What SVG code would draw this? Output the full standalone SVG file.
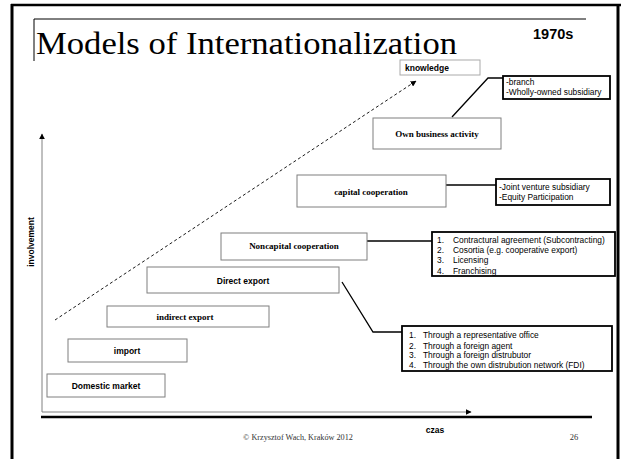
<svg xmlns="http://www.w3.org/2000/svg" width="621" height="459" viewBox="0 0 621 459">
<style>
.node{fill:#fff;stroke:#7f7f7f;stroke-width:1}
.note{fill:#fff;stroke:#000;stroke-width:1.8}
.ser{font-family:"Liberation Serif",serif;font-weight:bold;font-size:9px;text-anchor:middle;fill:#000}
.san{font-family:"Liberation Sans",Arial,sans-serif;font-weight:bold;font-size:8.5px;text-anchor:middle;fill:#000}
.txt{font-family:"Liberation Sans",Arial,sans-serif;font-size:8.4px;fill:#000}
.con{stroke:#000;stroke-width:1.3;fill:none}
.axis{stroke:#808080;stroke-width:1;fill:none}
</style>
<defs>
<marker id="ah" viewBox="0 0 10 10" refX="9" refY="5" markerWidth="6" markerHeight="6" orient="auto" markerUnits="userSpaceOnUse">
<path d="M0,0 L10,5 L0,10 z" fill="#000"/>
</marker>
</defs>
<rect width="621" height="459" fill="#fff"/>
<g id="frame">
<line x1="12" y1="4" x2="12" y2="459" stroke="#000" stroke-width="3"/>
<line x1="11" y1="5" x2="621" y2="5" stroke="#000" stroke-width="2.5"/>
<line x1="618" y1="4" x2="618" y2="459" stroke="#000" stroke-width="3"/>
<line x1="34" y1="19" x2="586" y2="19" stroke="#000" stroke-width="1"/>
<line x1="34" y1="19" x2="34" y2="61" stroke="#000" stroke-width="1"/>
<line x1="41" y1="417" x2="592" y2="417" stroke="#000" stroke-width="2.5"/>
</g>
<text x="36" y="54" font-family="Liberation Serif,serif" font-size="32" textLength="421" lengthAdjust="spacingAndGlyphs">Models of Internationalization</text>
<text x="533" y="39" font-family="Liberation Sans,Arial,sans-serif" font-weight="bold" font-size="14.5">1970s</text>
<g id="axes">
<line class="axis" x1="42" y1="412" x2="42" y2="134" marker-end="url(#ah)"/>
<line class="axis" x1="42" y1="412" x2="471" y2="412" marker-end="url(#ah)"/>
</g>
<text class="san" transform="translate(34,242) rotate(-90)">involvement</text>
<text class="san" x="435" y="433" font-size="9.5">czas</text>
<text x="298" y="440" font-family="Liberation Serif,serif" font-size="8.2" text-anchor="middle" fill="#333">© Krzysztof Wach, Kraków 2012</text>
<text x="574" y="440" font-family="Liberation Serif,serif" font-size="8.5" text-anchor="middle" fill="#333">26</text>
<g id="connectors">
<line x1="55" y1="320" x2="416" y2="81" stroke="#000" stroke-width="0.9" stroke-dasharray="3,2.5" marker-end="url(#ah)"/>
<polyline class="con" points="452,117 488,78 503,78"/>
<line class="con" x1="446" y1="185" x2="496" y2="185"/>
<line class="con" x1="367" y1="241" x2="432" y2="241"/>
<polyline class="con" points="342,282 373,332 402,332"/>
</g>
<g id="knowledge">
<rect x="400" y="60" width="80" height="15" fill="#fff" stroke="#aaa" stroke-width="1"/>
<text x="405" y="71" font-family="Liberation Sans,Arial,sans-serif" font-weight="bold" font-size="8.5">knowledge</text>
</g>
<g id="branch">
<rect class="note" x="503" y="76" width="107" height="23"/>
<text class="txt" x="506" y="85">-branch</text>
<text class="txt" x="506" y="95">-Wholly-owned subsidiary</text>
</g>
<g id="own">
<rect class="node" x="373" y="118" width="128" height="31"/>
<text class="ser" x="437" y="137">Own business activity</text>
</g>
<g id="capital">
<rect class="node" x="297" y="175" width="149" height="32"/>
<text class="ser" x="371" y="195" font-size="11">capital cooperation</text>
</g>
<g id="joint">
<rect class="note" x="496" y="179" width="114" height="26"/>
<text class="txt" x="499" y="190">-Joint venture subsidiary</text>
<text class="txt" x="499" y="200">-Equity Participation</text>
</g>
<g id="noncapital">
<rect class="node" x="221" y="233" width="146" height="27"/>
<text class="ser" x="294" y="249" font-size="8.8">Noncapital cooperation</text>
</g>
<g id="contract">
<rect class="note" x="432" y="232" width="183" height="44"/>
<text class="txt" x="437" y="243">1.</text><text class="txt" x="453" y="243">Contractural agreement (Subcontracting)</text>
<text class="txt" x="437" y="253">2.</text><text class="txt" x="453" y="253">Cosortia (e.g. cooperative export)</text>
<text class="txt" x="437" y="263">3.</text><text class="txt" x="453" y="263">Licensing</text>
<text class="txt" x="437" y="273.5">4.</text><text class="txt" x="453" y="273.5">Franchising</text>
</g>
<g id="direct">
<rect class="node" x="147" y="267" width="192" height="26"/>
<text class="san" x="243" y="284">Direct export</text>
</g>
<g id="through">
<rect class="note" x="402" y="326" width="210" height="45"/>
<text class="txt" x="409" y="338" font-size="8.9">1.</text><text class="txt" x="423" y="338" font-size="8.9">Through a representative office</text>
<text class="txt" x="409" y="348.5" font-size="8.9">2.</text><text class="txt" x="423" y="348.5" font-size="8.9">Through a foreign agent</text>
<text class="txt" x="409" y="358" font-size="8.9">3.</text><text class="txt" x="423" y="358" font-size="8.9">Through a foreign distrubutor</text>
<text class="txt" x="409" y="367.5" font-size="8.9">4.</text><text class="txt" x="423" y="367.5" font-size="8.9">Through the own distrubution network (FDI)</text>
</g>
<g id="indirect">
<rect class="node" x="107" y="306" width="162" height="21"/>
<text class="ser" x="185" y="320">indirect export</text>
</g>
<g id="import">
<rect class="node" x="68" y="339" width="119" height="23"/>
<text class="san" x="127" y="354" font-size="9">import</text>
</g>
<g id="domestic">
<rect class="node" x="47" y="374" width="118" height="23"/>
<text class="san" x="106" y="389">Domestic market</text>
</g>
</svg>
